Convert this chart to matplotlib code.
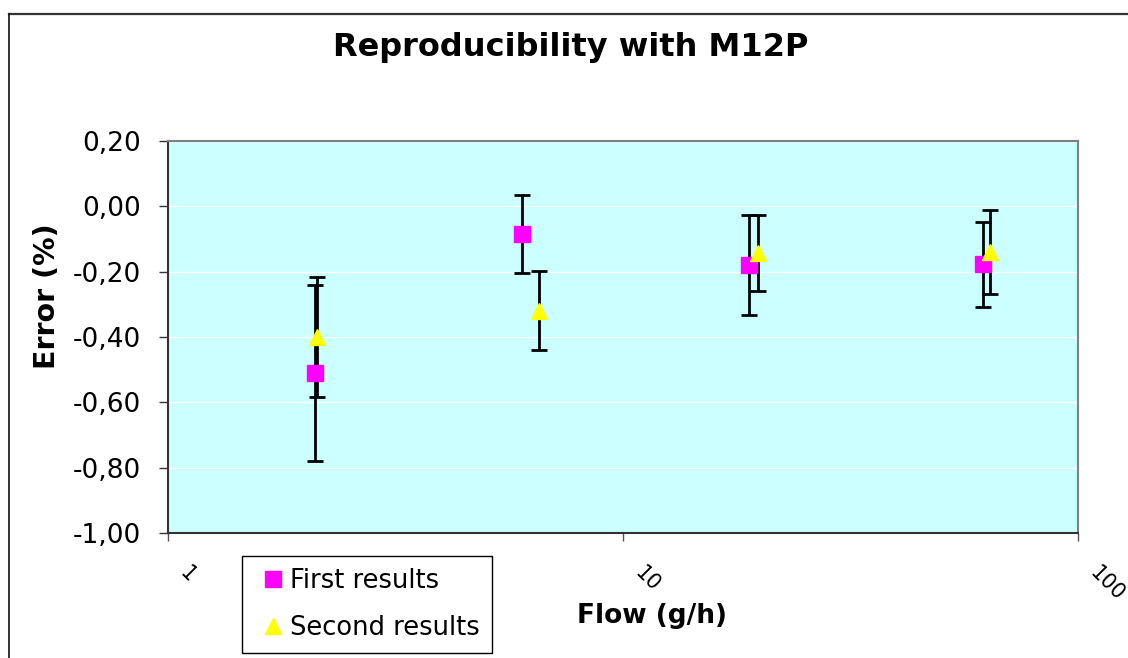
import numpy as np
import matplotlib
matplotlib.use("Agg")
import matplotlib.pyplot as plt
from matplotlib.lines import Line2D
from matplotlib.transforms import blended_transform_factory, ScaledTranslation

# data
flow_first = [2.10, 6.00, 18.9, 61.7]
err_first = [-0.51, -0.085, -0.18, -0.178]
bar_first = [0.27, 0.12, 0.154, 0.131]

flow_second = [2.13, 6.55, 19.8, 64.1]
err_second = [-0.40, -0.32, -0.143, -0.140]
bar_second = [0.183, 0.121, 0.117, 0.128]

series_labels = ["First results", "Second results"]
xticks = [1, 10, 100]
xtick_labels = ["1", "10", "100"]
yticks = [-1.0, -0.8, -0.6, -0.4, -0.2, 0.0, 0.2]
ytick_labels = ["-1,00", "-0,80", "-0,60", "-0,40", "-0,20", "0,00", "0,20"]

W, H = 1128, 658
fig = plt.figure(figsize=(W / 100, H / 100), dpi=100)
fig.patch.set_facecolor("white")

# outer chart border (only top and left visible in the crop)
fig.add_artist(Line2D([9 / W, 1], [1 - 14 / H, 1 - 14 / H], transform=fig.transFigure,
                      color="#333333", lw=1.6))
fig.add_artist(Line2D([9 / W, 9 / W], [0, 1 - 14 / H], transform=fig.transFigure,
                      color="#111111", lw=1.2))

ax = fig.add_axes([168 / W, 1 - 533 / H, (1078 - 168) / W, (533 - 141) / H])
ax.set_facecolor("#CCFFFF")
ax.set_xscale("log")
ax.set_xlim(1, 100)
ax.set_ylim(-1.0, 0.2)

ax.set_yticks(yticks)
ax.set_yticklabels(ytick_labels, fontsize=19)
ax.set_xticks(xticks)
ax.set_xticklabels([])
ax.xaxis.set_minor_locator(matplotlib.ticker.NullLocator())
ax.tick_params(axis="y", direction="out", length=6.5, width=1, color="#333333", pad=13)
ax.tick_params(axis="x", direction="out", length=6, width=1, color="#555555")

ax.yaxis.grid(True, color="white", lw=1)
ax.set_axisbelow(True)

for side in ["left", "bottom"]:
    ax.spines[side].set_color("#333333")
    ax.spines[side].set_linewidth(1.5)
for side in ["top", "right"]:
    ax.spines[side].set_color("#808080")
    ax.spines[side].set_linewidth(1.5)

eb1 = ax.errorbar(flow_first, err_first, yerr=bar_first, fmt="s", color="#FF00FF",
                  markersize=11, markeredgecolor="#FF00FF", ecolor="black",
                  elinewidth=2, capsize=5.5, capthick=2)
eb2 = ax.errorbar(flow_second, err_second, yerr=bar_second, fmt="^", color="#FFFF00",
                  markersize=11, markeredgecolor="#FFFF00", ecolor="black",
                  elinewidth=2, capsize=5.5, capthick=2)

# rotated x tick labels, placed like the original
trans = blended_transform_factory(ax.transData, ax.transAxes)
off = ScaledTranslation(15 / 100, -37 / 100, fig.dpi_scale_trans)
for xv, lab in zip(xticks, xtick_labels):
    ax.text(xv, 0, lab, transform=trans + off, rotation=-45, rotation_mode="anchor",
            ha="left", va="center", fontsize=15)

fig.text(571 / W, 1 - 56 / H, "Reproducibility with M12P", ha="center", va="baseline",
         fontsize=23, fontweight="bold")
fig.text(652 / W, 1 - 623 / H, "Flow (g/h)", ha="center", va="baseline",
         fontsize=19, fontweight="bold")
fig.text(47 / W, 1 - 296 / H, "Error (%)", ha="center", va="center", rotation=90,
         fontsize=20.5, fontweight="bold")

leg = ax.legend([eb1.lines[0], eb2.lines[0]], series_labels,
                loc="upper left", bbox_to_anchor=(242 / W, 1 - 556 / H),
                bbox_transform=fig.transFigure, borderaxespad=0,
                fontsize=18.5, frameon=True, fancybox=False, framealpha=1,
                edgecolor="black", borderpad=0.45, handlelength=1.5,
                handletextpad=-0.07, labelspacing=0.85, numpoints=1)
leg.get_frame().set_linewidth(1)

fig.savefig("out.png", dpi=100)
